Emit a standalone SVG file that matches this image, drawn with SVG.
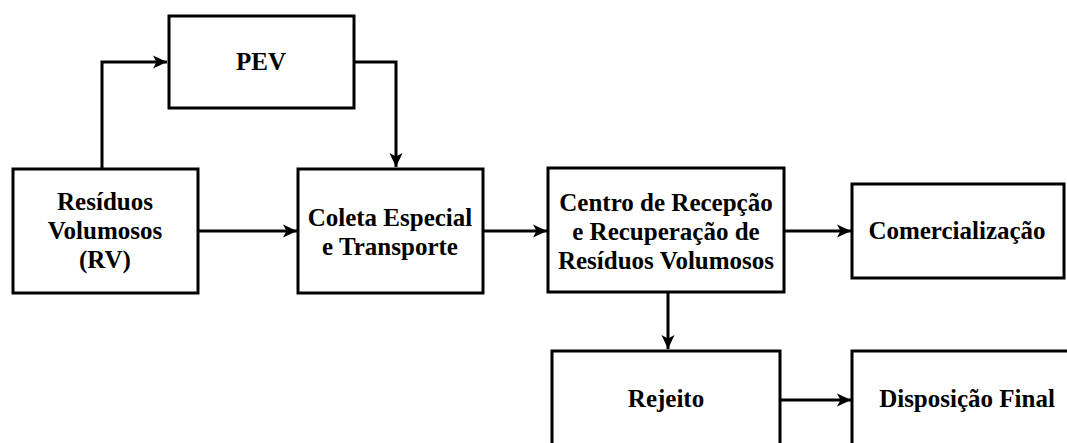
<svg xmlns="http://www.w3.org/2000/svg" width="1067" height="443" viewBox="0 0 1067 443">
<style>
.box{fill:#fff;stroke:#000;stroke-width:3}
.lbl{font-family:"Liberation Serif","Times New Roman",serif;font-weight:bold;font-size:25px;fill:#000;text-anchor:middle}
.con{fill:none;stroke:#000;stroke-width:3;marker-end:url(#ah)}
</style>
<defs>
<marker id="ah" markerUnits="userSpaceOnUse" markerWidth="15" markerHeight="15" refX="14" refY="7.5" orient="auto">
<path d="M0,1 L14,7.5 L0,14 L3.5,7.5 z" fill="#000"/>
</marker>
</defs>
<rect width="1067" height="443" fill="#fff"/>
<g id="connectors">
<polyline class="con" points="102,168 102,62 167,62"/>
<polyline class="con" points="354,62 396,62 396,167"/>
<line class="con" x1="198" y1="231" x2="297" y2="231"/>
<line class="con" x1="483" y1="231" x2="547" y2="231"/>
<line class="con" x1="784" y1="231" x2="851" y2="231"/>
<line class="con" x1="668" y1="292" x2="668" y2="349"/>
<line class="con" x1="780" y1="400" x2="851" y2="400"/>
</g>
<g id="pev">
<rect class="box" x="169" y="16" width="185" height="92"/>
<text class="lbl" x="261" y="70">PEV</text>
</g>
<g id="rv">
<rect class="box" x="13" y="169" width="185" height="124"/>
<text class="lbl" x="105" y="210">Resíduos</text>
<text class="lbl" x="105" y="239">Volumosos</text>
<text class="lbl" x="105" y="268">(RV)</text>
</g>
<g id="coleta">
<rect class="box" x="298" y="169" width="185" height="124"/>
<text class="lbl" x="390" y="226">Coleta Especial</text>
<text class="lbl" x="390" y="255">e Transporte</text>
</g>
<g id="centro">
<rect class="box" x="548" y="168" width="236" height="124"/>
<text class="lbl" x="666" y="211">Centro de Recepção</text>
<text class="lbl" x="666" y="240">e Recuperação de</text>
<text class="lbl" x="666" y="269">Resíduos Volumosos</text>
</g>
<g id="comercializacao">
<rect class="box" x="852" y="184" width="212" height="94"/>
<text class="lbl" x="957" y="239">Comercialização</text>
</g>
<g id="rejeito">
<rect class="box" x="552" y="351" width="228" height="110"/>
<text class="lbl" x="666" y="407">Rejeito</text>
</g>
<g id="disposicao">
<rect class="box" x="852" y="351" width="230" height="110"/>
<text class="lbl" x="967" y="407">Disposição Final</text>
</g>
</svg>
